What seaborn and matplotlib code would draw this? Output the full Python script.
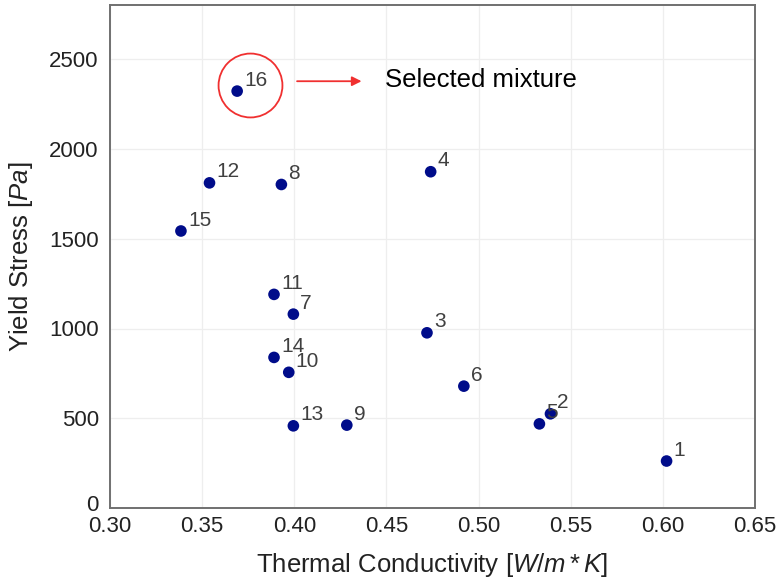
import matplotlib
matplotlib.use("Agg")
import matplotlib.pyplot as plt
import matplotlib.transforms as mtransforms
import seaborn as sns
import pandas as pd

# mixture id, thermal conductivity [W/m*K], yield stress [Pa]
mixture = [1, 2, 3, 4, 5, 6, 7, 8, 9, 10, 11, 12, 13, 14, 15, 16]
conductivity = [0.602, 0.539, 0.472, 0.474, 0.533, 0.492, 0.3995, 0.393,
                0.4285, 0.397, 0.389, 0.354, 0.3995, 0.389, 0.3385, 0.369]
yield_stress = [262, 525, 976, 1873, 469, 679, 1080, 1802,
                462, 756, 1190, 1811, 458, 839, 1543, 2322]

df = pd.DataFrame({"id": mixture, "k": conductivity, "tau": yield_stress})

sns.set_style("white")
plt.rcParams["font.family"] = ["Liberation Sans", "DejaVu Sans"]
plt.rcParams["mathtext.fontset"] = "custom"
plt.rcParams["mathtext.it"] = "Liberation Sans:italic"
plt.rcParams["mathtext.rm"] = "Liberation Sans"

fig = plt.figure(figsize=(7.8, 5.84), dpi=100)
ax = fig.add_axes([0.141, 0.130, 0.827, 0.861])

sns.scatterplot(data=df, x="k", y="tau", color="#000c8a", s=70,
                edgecolor="none", ax=ax, zorder=3)

for _, r in df.iterrows():
    ax.annotate(str(int(r["id"])), (r["k"], r["tau"]), xytext=(5, 1),
                textcoords="offset points", ha="left", va="bottom",
                fontsize=15, color="#404040", zorder=4)

# highlight the selected mixture
sel = df[df["id"] == 16].iloc[0]
ax.plot(sel["k"] + 0.007, sel["tau"] + 33, marker="o", markersize=46,
        markerfacecolor="none", markeredgecolor="#f03030", markeredgewidth=1.3,
        zorder=2)
ax.annotate("", xy=(0.438, 2377), xytext=(0.400, 2377),
            arrowprops=dict(arrowstyle="-|>", color="#f03030", lw=1.3,
                            mutation_scale=14))
ax.text(0.4493, 2383, "Selected mixture", fontsize=18.5, color="black",
        ha="left", va="center")

ax.set_xlim(0.30, 0.65)
ax.set_ylim(0, 2800)
ax.set_xticks([0.30, 0.35, 0.40, 0.45, 0.50, 0.55, 0.60, 0.65])
ax.set_xticklabels(["0.30", "0.35", "0.40", "0.45", "0.50", "0.55", "0.60", "0.65"])
ax.set_yticks([0, 500, 1000, 1500, 2000, 2500])
ax.grid(True, color="#eeeeee", lw=0.9)
ax.set_axisbelow(True)
for sp in ax.spines.values():
    sp.set_color("#707070")
    sp.set_linewidth(1.4)
ax.tick_params(labelsize=16, colors="#222222", length=0)
ax.tick_params(axis="x", pad=6)
ax.tick_params(axis="y", pad=8)

# lift the "0" label a little so it sits above "0.30"
zero = ax.get_yticklabels()[0]
zero.set_transform(zero.get_transform() +
                   mtransforms.ScaledTranslation(0, 4 / 72, fig.dpi_scale_trans))

ax.set_xlabel("Thermal Conductivity [$W/m*K$]", fontsize=18.5, color="#222222",
              labelpad=10)
ax.set_ylabel("Yield Stress [$Pa$]", fontsize=18.5, color="#222222", labelpad=10)

fig.savefig("out.png", dpi=100)
